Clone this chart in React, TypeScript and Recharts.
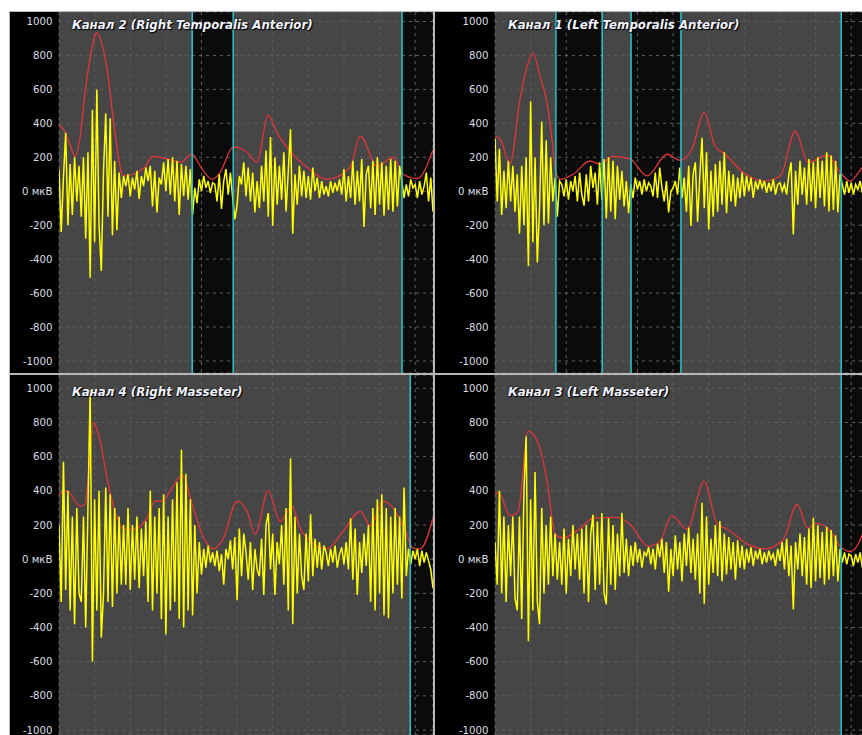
import { LineChart, Line, XAxis, YAxis, CartesianGrid, ReferenceArea, ReferenceLine } from "recharts";

// time axis in grid units (one dashed grid column = 1)
const T_MAX = 10.5;
const T_STEP = T_MAX / 168;
const GRID_X = [0, 1, 2, 3, 4, 5, 6, 7, 8, 9, 10];
const Y_TICKS = [-1000, -800, -600, -400, -200, 0, 200, 400, 600, 800, 1000];

// red envelope lines: [time, µV]
const redCh2: [number, number][] = [
  [0, 390], [0.11, 370], [0.3, 280], [0.45, 205], [0.6, 330], [0.73, 580], [0.87, 780], [1.07, 935],
  [1.2, 870], [1.35, 720], [1.57, 345], [1.8, 90], [2.08, 100], [2.4, 140], [2.64, 205], [3.03, 190],
  [3.4, 170], [3.74, 218], [3.96, 150], [4.3, 70], [4.52, 110], [4.89, 260], [5.28, 230], [5.56, 170],
  [5.87, 450], [6.12, 345], [6.49, 235], [6.97, 140], [7.53, 70], [8.17, 140], [8.46, 325], [8.93, 147],
  [9.38, 200], [9.66, 100], [10.06, 75], [10.5, 245],
];
const redCh1: [number, number][] = [
  [0, 325], [0.15, 305], [0.42, 160], [0.7, 540], [0.9, 735], [1.07, 815], [1.26, 680], [1.46, 520],
  [1.6, 305], [1.71, 110], [1.83, 70], [2.19, 100], [2.67, 178], [2.95, 160], [3.31, 205], [3.79, 190],
  [4.27, 90], [4.83, 218], [5.2, 182], [5.53, 247], [5.87, 465], [6.18, 265], [6.46, 218], [6.97, 110],
  [7.53, 60], [8.01, 90], [8.43, 355], [8.79, 170], [9.33, 212], [9.69, 110], [9.97, 60], [10.31, 140],
  [10.5, 180],
];
const redCh4: [number, number][] = [
  [0, 380], [0.22, 400], [0.59, 310], [0.73, 320], [0.85, 550], [0.96, 800], [1.15, 695], [1.35, 475],
  [1.57, 280], [1.8, 180], [2.08, 175], [2.47, 240], [2.7, 340], [2.92, 340], [3.12, 400], [3.46, 490],
  [3.74, 320], [4.02, 145], [4.33, 60], [4.61, 120], [5.0, 340], [5.28, 280], [5.51, 145], [5.87, 400],
  [6.21, 220], [6.54, 310], [6.77, 180], [7.05, 105], [7.53, 60], [7.98, 165], [8.46, 280], [8.74, 195],
  [9.1, 340], [9.38, 300], [9.72, 165], [9.94, 65], [10.14, 60], [10.5, 240],
];
const redCh3: [number, number][] = [
  [0, 390], [0.14, 380], [0.42, 255], [0.65, 280], [0.93, 750], [1.18, 695], [1.46, 460], [1.69, 145],
  [1.91, 125], [2.39, 180], [2.75, 240], [3.43, 245], [3.79, 205], [4.3, 75], [4.63, 105], [4.97, 255],
  [5.39, 175], [5.87, 455], [6.24, 205], [6.52, 175], [7.08, 90], [7.58, 60], [8.09, 115], [8.48, 320],
  [8.79, 180], [9.04, 210], [9.41, 165], [9.69, 75], [9.97, 45], [10.2, 90], [10.31, 145], [10.5, 220],
];

// raw EMG (yellow), one value per T_STEP
const rawCh2 = [
  130, -240, 80, 345, -200, 160, -140, 200, -60, 150,
  -150, 200, -280, 230, -510, 480, -300, 600, -200, -470,
  120, 460, -150, 430, -260, 180, -230, 110, -40, 90,
  30, 100, -30, 80, 10, 120, -45, 90, 30, 140,
  60, 150, -90, 120, -125, 80, 40, 170, 0, 190,
  -20, 200, -60, 180, -140, 160, -30, 150, -50, 130,
  -140, 20, -70, 70, 0, 90, 20, 60, -10, 50,
  40, -60, 100, -105, 60, 130, -20, 110, -40, -165,
  -80, 90, 40, 170, -30, 140, -60, 110, -125, 60,
  -100, 150, -60, 240, -150, 320, -205, 200, -80, 150,
  -50, 230, -120, 120, 365, -250, 100, -80, 150, -30,
  120, -40, 90, -50, 140, 0, 80, -40, 60, -20,
  30, -30, 60, -10, 50, 0, 70, -20, 130, -60,
  90, -40, 180, -80, 120, -60, 190, -210, 100, 150,
  -100, 180, -140, 200, -80, 170, -145, 150, -110, 190,
  -120, 180, -90, 150, 60, -40, 40, -30, 70, 20,
  40, -40, 60, -20, 30, 110, -60, 80, -120,
];
const rawCh1 = [
  310, -60, 250, -140, 120, -100, 180, -60, 150, -120,
  100, -250, 150, -200, 200, -440, 530, -300, 200, -420,
  -100, 410, -200, 300, -190, 200, -60, 80, -150, 60,
  40, -30, 70, -50, 60, 0, 90, -60, 110, -20,
  -85, 100, -60, 150, 20, 110, -80, 170, -50, 190,
  -160, 200, -120, 180, -165, 150, -50, 120, -90, 60,
  -130, 40, -40, 80, 10, 60, -20, 70, 0, 50,
  30, -30, 110, -40, 140, 20, -60, 60, -125, 0,
  20, 60, -20, 140, -40, 80, -120, 150, -205, 100,
  170, -180, 90, 315, -100, 230, -225, 120, -150, 160,
  -120, 180, -80, 230, -130, 120, -60, 100, -90, 80,
  -40, 110, -30, 90, 0, 80, -40, 60, 10, 70,
  20, 60, -10, 50, 0, 70, -20, 40, 50, 0,
  40, -20, 100, 170, -255, 120, -80, 180, -20, 140,
  -80, 190, -60, 170, -100, 200, -40, 180, -90, 230,
  -120, 210, -110, 180, -125, 100, 40, -20, 60, -10,
  50, -20, 40, 10, 60, -10, 30, 20, 40,
];
const rawCh4 = [
  200, -250, 570, -180, 400, -300, 250, -380, 300, -200,
  -250, 250, -400, 300, 990, -600, 350, -300, 400, -460,
  -200, 420, -250, 380, -280, 300, -200, 250, -150, 200,
  -150, 300, -180, 200, -120, 250, -170, 180, -100, 220,
  -250, 400, -300, 250, -200, 300, -350, 380, -440, 250,
  -300, 350, -250, 450, -350, 640, -400, 500, -300, 350,
  -330, 200, -200, 100, -90, 60, -50, 80, -20, 40,
  -40, 50, -70, 30, -150, 60, 0, 110, -60, 130,
  -240, 180, -100, 150, 40, -120, 100, -180, 60, -60,
  -100, 120, -210, 200, 270, -60, 150, -210, 100, -30,
  200, -150, 300, -300, 590, -380, 250, -200, 150, -100,
  -180, 150, -130, 263, -100, 120, -50, 100, -60, 80,
  40, -40, 60, -20, 80, -50, 30, 70, -30, 100,
  -60, 240, -120, 180, -210, 100, -80, 150, -40, 200,
  -250, 300, -300, 350, -200, 380, -330, 300, -345, 250,
  -200, 300, -150, 250, -230, 420, -100, 60, -30, 50,
  0, 60, -40, 50, -20, 40, -10, -60, -170,
];
const rawCh3 = [
  100, -150, 400, -200, 250, -250, 200, -100, 250, -230,
  -300, 250, -350, 400, 720, -480, 350, -300, 510, -250,
  -380, 300, -200, 200, -150, 250, -100, 150, -120, 100,
  -150, 180, -200, 120, -100, 200, -60, 150, -120, 180,
  -200, 200, -250, 150, 260, -180, 220, -150, 270, -200,
  -265, 240, -150, 200, -180, 150, -100, 272, -80, 120,
  -100, 80, -40, 100, -20, 60, -50, 40, 20, 70,
  -30, 60, -60, 90, 10, 120, -80, 100, -190, 60,
  -100, 140, -60, 100, -130, 150, -40, 185, -80, 120,
  -120, 150, -200, 330, -260, 250, -150, 120, -80, 200,
  -100, 224, -130, 150, -90, 130, -60, 100, -120, 110,
  -50, 80, -60, 60, -20, 70, -40, 50, 0, 60,
  -30, 40, -20, 50, 0, 30, -40, 60, -10, 100,
  -60, 120, -100, 80, -295, 100, -60, 150, -100, 130,
  -150, 180, -170, 243, -130, 200, -110, 160, -150, 190,
  -120, 170, -100, 140, -130, 60, -20, 40, -30, 30,
  20, -40, 30, -20, 40, -50, 10, 30, -10,
];

// marked (dark) intervals and their cyan borders
const darkCh2: [number, number][] = [[3.74, 4.89], [9.63, 10.5]];
const cyanCh2 = [3.74, 4.89, 9.63];
const darkCh1: [number, number][] = [[1.71, 3.01], [3.82, 5.22], [9.72, 10.5]];
const cyanCh1 = [1.71, 3.01, 3.82, 5.22, 9.72];
const darkCh4: [number, number][] = [[9.86, 10.5]];
const cyanCh4 = [9.86];
const darkCh3: [number, number][] = [[9.72, 10.5]];
const cyanCh3 = [9.72];

const toEnvelope = (pts: [number, number][]) => pts.map(([t, v]) => ({ t, v }));
const toRaw = (vals: number[]) => vals.map((v, i) => ({ t: i * T_STEP, v }));

interface PanelProps {
  left: number;
  top: number;
  width: number;
  height: number;
  axisWidth: number;
  yDomain: [number, number];
  title: string;
  titleTop: number;
  red: [number, number][];
  raw: number[];
  dark: [number, number][];
  cyan: number[];
}

function Panel({ left, top, width, height, axisWidth, yDomain, title, titleTop, red, raw, dark, cyan }: PanelProps) {
  return (
    <div style={{ position: "absolute", left, top, width, height, background: "#000", overflow: "hidden" }}>
      <LineChart width={width} height={height} margin={{ top: 0, right: 0, bottom: 0, left: 0 }}>
        <XAxis type="number" dataKey="t" domain={[0, T_MAX]} ticks={GRID_X} hide allowDataOverflow />
        <YAxis
          type="number"
          domain={yDomain}
          ticks={Y_TICKS}
          width={axisWidth}
          axisLine={false}
          tickLine={false}
          tickSize={0}
          tickMargin={6.5}
          allowDataOverflow
          interval={0}
          tick={{ fill: "#dadee4", fontSize: 10.2, fontFamily: "DejaVu Sans" }}
          tickFormatter={(v: number) => (v === 0 ? "0 мкВ" : String(v))}
        />
        <ReferenceArea x1={0} x2={T_MAX} fill="#464646" fillOpacity={1} stroke="none" zIndex={-300} />
        {dark.map(([a, b]) => (
          <ReferenceArea key={a} x1={a} x2={b} fill="#0b0b0b" fillOpacity={1} stroke="none" zIndex={-200} />
        ))}
        <CartesianGrid stroke="#606060" strokeDasharray="3 4" fill="none" />
        <Line
          data={toEnvelope(red)}
          dataKey="v"
          type="monotone"
          stroke="#e3353a"
          strokeWidth={1.3}
          dot={false}
          activeDot={false}
          isAnimationActive={false}
        />
        <Line
          data={toRaw(raw)}
          dataKey="v"
          type="linear"
          stroke="#ffff00"
          strokeWidth={1.5}
          dot={false}
          activeDot={false}
          isAnimationActive={false}
        />
        {cyan.map((x) => (
          <ReferenceLine key={x} x={x} stroke="#26c6cf" strokeWidth={1.5} zIndex={500} />
        ))}
      </LineChart>
      <div
        style={{
          position: "absolute",
          left: axisWidth + 13,
          top: titleTop,
          font: "italic bold 11.8px 'DejaVu Sans'",
          lineHeight: "13px",
          color: "#f2f4ff",
          whiteSpace: "nowrap",
          textShadow: "1px 1px 1px #000, 0 0 2px #000",
        }}
      >
        {title}
      </div>
    </div>
  );
}

export default function App() {
  return (
    <div style={{ position: "absolute", left: 0, top: 0, width: 862, height: 735, background: "#fff", overflow: "hidden" }}>
      <div style={{ position: "absolute", left: 9, top: 11, width: 853, height: 724, background: "#b8b8b8" }} />
      <Panel
        left={10}
        top={12}
        width={423}
        height={361}
        axisWidth={49}
        yDomain={[-1071, 1056]}
        title="Канал 2 (Right Temporalis Anterior)"
        titleTop={7}
        red={redCh2}
        raw={rawCh2}
        dark={darkCh2}
        cyan={cyanCh2}
      />
      <Panel
        left={435}
        top={12}
        width={434}
        height={361}
        axisWidth={60}
        yDomain={[-1071, 1056]}
        title="Канал 1 (Left Temporalis Anterior)"
        titleTop={7}
        red={redCh1}
        raw={rawCh1}
        dark={darkCh1}
        cyan={cyanCh1}
      />
      <Panel
        left={10}
        top={375}
        width={423}
        height={360}
        axisWidth={49}
        yDomain={[-1029, 1078]}
        title="Канал 4 (Right Masseter)"
        titleTop={11}
        red={redCh4}
        raw={rawCh4}
        dark={darkCh4}
        cyan={cyanCh4}
      />
      <Panel
        left={435}
        top={375}
        width={434}
        height={360}
        axisWidth={60}
        yDomain={[-1029, 1078]}
        title="Канал 3 (Left Masseter)"
        titleTop={11}
        red={redCh3}
        raw={rawCh3}
        dark={darkCh3}
        cyan={cyanCh3}
      />
    </div>
  );
}
